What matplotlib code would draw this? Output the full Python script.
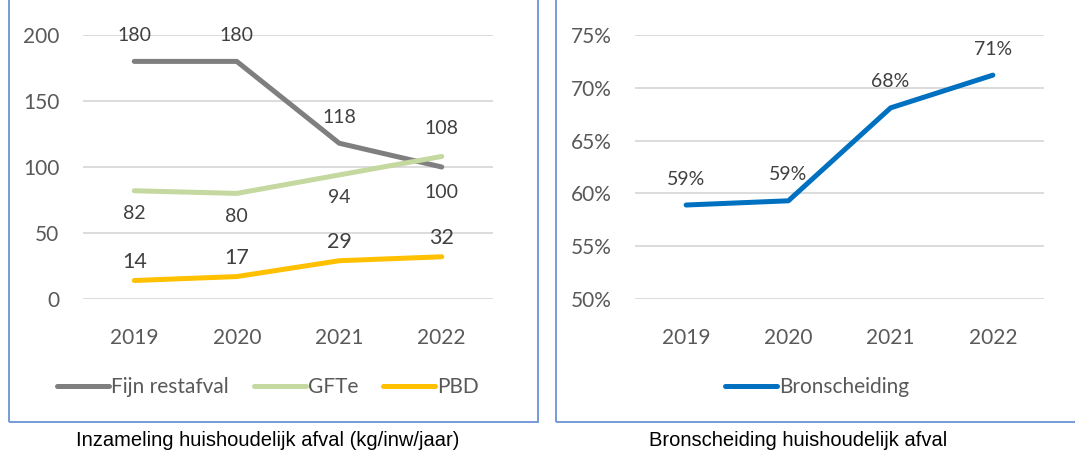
import matplotlib.pyplot as plt
from matplotlib.patches import Rectangle

# data
years = ["2019", "2020", "2021", "2022"]
fijn_restafval = [180, 180, 118, 100]
gfte = [82, 80, 94, 108]
pbd = [14, 17, 29, 32]
bronscheiding = [58.9, 59.3, 68.1, 71.2]
bron_labels = ["59%", "59%", "68%", "71%"]

W, H = 1075, 453
plt.rcParams['font.family'] = ['Lato', 'DejaVu Sans']
TICK_C = "#595959"
LABEL_C = "#404040"
BOX_C = "#6a93d4"


def px_axes(fig, x0, x1, y_top, y_bot):
    # axes placed by pixel coordinates (y measured from top)
    return fig.add_axes([x0 / W, (H - y_bot) / H, (x1 - x0) / W, (y_bot - y_top) / H])


def style_axes(ax, yticks, yticklabels, ylim):
    ax.set_xlim(-0.5, 3.5)
    ax.set_ylim(*ylim)
    ax.set_yticks(yticks)
    ax.set_yticklabels(yticklabels)
    ax.set_xticks(range(len(years)))
    ax.set_xticklabels(years)
    for s in ax.spines.values():
        s.set_visible(False)
    ax.tick_params(length=0, labelsize=15, colors=TICK_C)
    ax.tick_params(axis='y', pad=17)
    ax.tick_params(axis='x', pad=21)
    ax.grid(axis='y', color="#d9d9d9", linewidth=1.3)
    ax.set_axisbelow(True)
    ax.patch.set_alpha(0)


def label(ax, x, y, text, dy, size=14):
    ax.annotate(text, (x, y), xytext=(0, dy), textcoords='offset pixels',
                ha='center', va='center', fontsize=size, color=LABEL_C)


fig = plt.figure(figsize=(W / 100, H / 100), dpi=100)

# panel frames
fig.patches.append(Rectangle((9 / W, (H - 422) / H), 529 / W, 0.99, transform=fig.transFigure,
                             fill=False, edgecolor=BOX_C, linewidth=1.3))
fig.patches.append(Rectangle((556 / W, (H - 422) / H), 0.6, 0.99, transform=fig.transFigure,
                             fill=False, edgecolor=BOX_C, linewidth=1.3))

# left chart
ax1 = px_axes(fig, 83, 493, 35, 299)
x = range(len(years))
l1, = ax1.plot(x, fijn_restafval, color="#7f7f7f", linewidth=3.6, solid_capstyle='round', label="Fijn restafval")
l2, = ax1.plot(x, gfte, color="#c4d89f", linewidth=3.6, solid_capstyle='round', label="GFTe")
l3, = ax1.plot(x, pbd, color="#ffc000", linewidth=3.6, solid_capstyle='round', label="PBD")
style_axes(ax1, [0, 50, 100, 150, 200], ["0", "50", "100", "150", "200"], (0, 200))

for i, v in enumerate(fijn_restafval):
    label(ax1, i, v, str(v), -25 if i == 3 else 26)
for i, v in enumerate(gfte):
    label(ax1, i, v, str(v), 28 if i == 3 else -23)
for i, v in enumerate(pbd):
    label(ax1, i, v, str(v), 19, size=15.5)

fig.legend(handles=[l1, l2, l3], loc='center', bbox_to_anchor=(268 / W, (H - 387) / H),
           ncol=3, frameon=False, fontsize=15, handlelength=2.5, handletextpad=0.1,
           columnspacing=1.2, labelcolor=TICK_C)

# right chart
ax2 = px_axes(fig, 635, 1044, 35, 299)
l4, = ax2.plot(x, bronscheiding, color="#0070c0", linewidth=3.6, solid_capstyle='round', label="Bronscheiding")
style_axes(ax2, [50, 55, 60, 65, 70, 75], ["50%", "55%", "60%", "65%", "70%", "75%"], (50, 75))
for i, v in enumerate(bronscheiding):
    label(ax2, i, v, bron_labels[i], 26)

fig.legend(handles=[l4], loc='center', bbox_to_anchor=(817 / W, (H - 387) / H),
           frameon=False, fontsize=15, handlelength=2.5, handletextpad=0.1, labelcolor=TICK_C)

# captions
fig.text(268 / W, (H - 440) / H, "Inzameling huishoudelijk afval (kg/inw/jaar)", ha='center', va='center',
         fontsize=14.5, family=['Liberation Sans'], color='black')
fig.text(798 / W, (H - 440) / H, "Bronscheiding huishoudelijk afval", ha='center', va='center',
         fontsize=14.5, family=['Liberation Sans'], color='black')

fig.savefig("out.png", dpi=100)
